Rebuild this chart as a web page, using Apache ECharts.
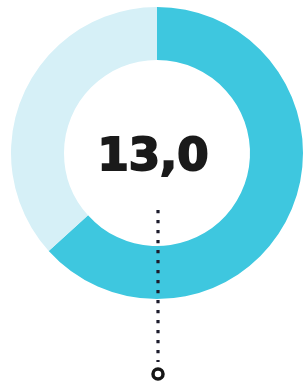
<!DOCTYPE html>
<html>
<head>
<meta charset="utf-8">
<style>
  html, body { margin: 0; padding: 0; background: #fff; }
  #chart { width: 307px; height: 390px; }
</style>
<script src="https://cdn.jsdelivr.net/npm/echarts@6/dist/echarts.min.js"></script>
</head>
<body>
<div id="chart"></div>
<script>
var sliceNames = ['filled', 'rest'];
var sliceValues = [63.3, 36.7];
var sliceColors = ['#3ec7df', '#d6f0f7'];
var centerLabel = '13,0';

var cx = 157, cy = 153;

var chart = echarts.init(document.getElementById('chart'));
var option = {
    animation: false,
    series: [{
        type: 'pie',
        center: [cx, cy],
        radius: [93, 146],
        startAngle: 90,
        clockwise: true,
        silent: true,
        label: { show: false },
        labelLine: { show: false },
        data: sliceNames.map(function (n, i) {
            return { name: n, value: sliceValues[i], itemStyle: { color: sliceColors[i] } };
        })
    }],
    graphic: [{
        type: 'line',
        shape: { x1: cx + 1, y1: 210, x2: cx + 1, y2: 362 },
        style: { stroke: '#1c1c2c', lineWidth: 3.2, lineDash: [3.2, 6.8] },
        z: 10
    }, {
        type: 'circle',
        shape: { cx: cx + 1, cy: 374, r: 5 },
        style: { fill: '#fff', stroke: '#161616', lineWidth: 3.5 },
        z: 10
    }, {
        type: 'text',
        x: 153,
        y: 158,
        style: {
            text: centerLabel,
            fill: '#1a1a1a',
            stroke: '#1a1a1a',
            lineWidth: 2,
            font: 'bold 45px "DejaVu Sans"',
            align: 'center',
            verticalAlign: 'middle'
        },
        z: 10
    }]
};
chart.setOption(option);
</script>
</body>
</html>
